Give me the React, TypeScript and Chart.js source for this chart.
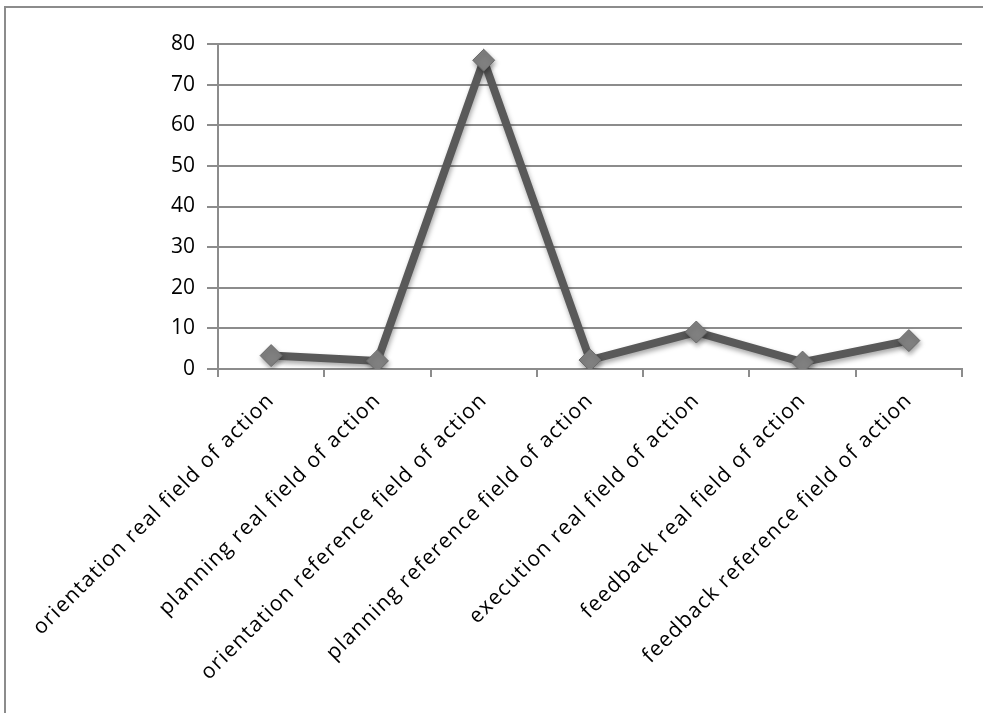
import React, { useEffect, useRef } from "react";
import { Chart, registerables } from "chart.js";

Chart.register(...registerables);

const categories: string[] = [
  "orientation real field of action",
  "planning real field of action",
  "orientation reference field of action",
  "planning reference field of action",
  "execution real field of action",
  "feedback real field of action",
  "feedback reference field of action",
];

const values: number[] = [3.3, 2, 76, 2.2, 9.1, 1.7, 7];

const yMin = 0;
const yMax = 80;
const yStep = 10;

const stylePlugin = {
  id: "stylePlugin",
  afterLayout(chart: any) {
    const sx = chart.scales.x;
    if (sx && !sx.__wrapped) {
      const orig = sx.drawLabels.bind(sx);
      sx.drawLabels = (area: any) => {
        const ctx = chart.ctx as any;
        ctx.letterSpacing = "1.3px";
        orig(area);
        ctx.letterSpacing = "0px";
      };
      sx.__wrapped = true;
    }
  },
  beforeDatasetsDraw(chart: any) {
    const ctx = chart.ctx;
    ctx.save();
    ctx.shadowColor = "rgba(0,0,0,0.35)";
    ctx.shadowBlur = 5;
    ctx.shadowOffsetX = 1;
    ctx.shadowOffsetY = 3;
  },
  afterDatasetsDraw(chart: any) {
    chart.ctx.restore();
  },
};

export default function App() {
  const ref = useRef<HTMLCanvasElement | null>(null);

  useEffect(() => {
    if (!ref.current) return;
    const chart = new Chart(ref.current, {
      type: "line",
      data: {
        labels: categories,
        datasets: [
          {
            data: values,
            borderColor: "#595959",
            borderWidth: 8,
            tension: 0,
            pointStyle: "rectRot",
            pointRadius: 11,
            pointBackgroundColor: "#808080",
            pointBorderColor: "#6a6a6a",
            pointBorderWidth: 1,
          },
        ],
      },
      plugins: [stylePlugin],
      options: {
        animation: false,
        responsive: false,
        maintainAspectRatio: false,
        layout: { padding: { top: 44, right: 21, left: 0, bottom: 0 } },
        plugins: {
          legend: { display: false },
          tooltip: { enabled: false },
        },
        scales: {
          x: {
            offset: true,
            grid: {
              offset: true,
              drawOnChartArea: false,
              drawTicks: true,
              tickLength: 8,
              color: "#8c8c8c",
              lineWidth: 2,
            },
            border: { color: "#8c8c8c", width: 2 },
            ticks: {
              maxRotation: 45,
              minRotation: 45,
              autoSkip: false,
              color: "#000",
              padding: 11,
              font: { family: "'Open Sans', sans-serif", size: 21 },
            },
            afterFit: (s: any) => {
              s.height = 344;
            },
          },
          y: {
            min: yMin,
            max: yMax,
            ticks: {
              stepSize: yStep,
              color: "#000",
              padding: 12,
              font: { family: "'Open Sans', sans-serif", size: 21 },
            },
            grid: {
              color: "#8c8c8c",
              lineWidth: 2,
              tickLength: 11,
            },
            border: { color: "#8c8c8c", width: 2 },
            afterFit: (s: any) => {
              s.width = 218;
            },
          },
        },
      },
    });
    return () => chart.destroy();
  }, []);

  return (
    <div style={{ position: "fixed", left: 0, top: 0, width: 983, height: 713, overflow: "hidden", background: "#fff" }}>
      <div
        style={{
          position: "absolute",
          left: 4,
          top: 6,
          width: 1100,
          height: 800,
          borderLeft: "2px solid #8c8c8c",
          borderTop: "2px solid #8c8c8c",
        }}
      />
      <canvas ref={ref} width={983} height={713} style={{ position: "absolute", left: 0, top: 0 }} />
    </div>
  );
}
